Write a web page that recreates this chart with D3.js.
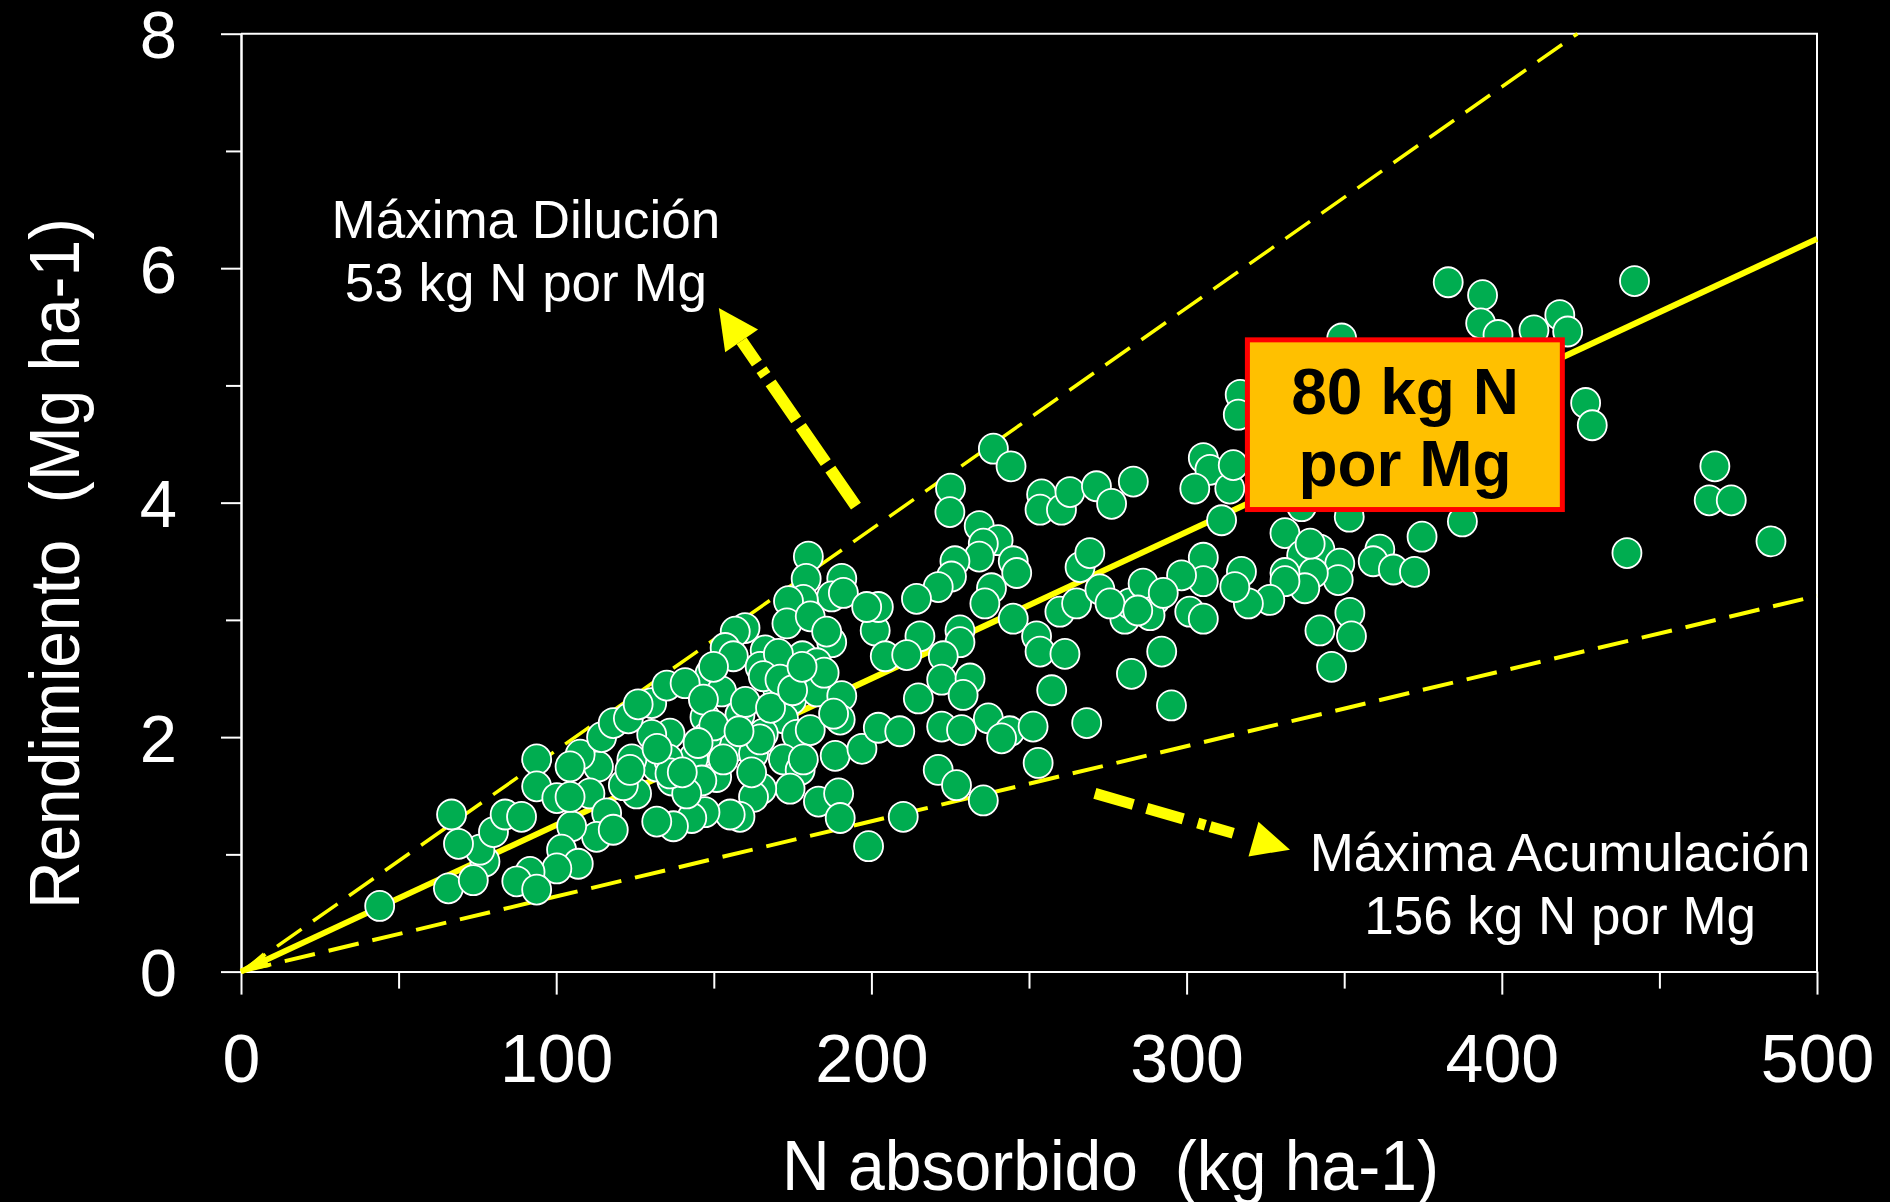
<!DOCTYPE html>
<html>
<head>
<meta charset="utf-8">
<script src="https://cdn.jsdelivr.net/npm/d3@7/dist/d3.min.js"></script>
<style>
  html, body { margin: 0; padding: 0; background: #000; }
  svg { display: block; }
  text { font-family: "Liberation Sans", Arial, sans-serif; }
</style>
</head>
<body>
<svg id="chart" width="1890" height="1202"></svg>
<script>
// N absorbido (kg ha-1) vs rendimiento (Mg ha-1)
const puntos = [
  [180.0,3.54],[179.3,3.35],[190.6,3.35],[187.4,3.20],[191.1,3.23],[178.4,3.17],[173.7,3.16],[173.2,2.97],
  [180.6,3.03],[187.4,2.81],[185.8,2.90],[178.1,2.69],[182.7,2.63],[177.9,2.54],[166.3,2.74],[159.9,2.93],
  [156.8,2.90],[153.6,2.76],[156.2,2.69],[148.8,2.54],[152.5,2.39],[164.7,2.60],[170.5,2.71],[170.0,2.43],
  [174.7,2.32],[182.7,2.39],[190.6,2.35],[172.1,2.16],[176.3,2.02],[180.6,2.06],[190.1,2.15],[188.5,1.84],
  [197.0,1.90],[202.2,2.08],[201.2,2.91],[202.2,3.11],[198.5,3.11],[204.4,2.69],[172.1,1.81],[177.4,1.72],
  [174.2,1.56],[165.2,1.56],[162.6,1.49],[158.3,1.32],[155.2,1.34],[183.2,1.45],[189.6,1.52],[190.1,1.31],
  [199.1,1.07],[158.3,2.19],[156.2,1.92],[162.6,1.86],[165.7,2.03],[150.9,1.66],[147.2,2.17],[147.8,2.00],
  [143.5,1.82],[146.2,1.63],[147.2,1.36],[143.0,1.31],[137.2,1.24],[131.9,1.28],[136.7,1.63],[134.0,1.78],
  [141.4,1.52],[136.1,2.03],[130.3,2.02],[130.3,2.29],[125.5,1.52],[131.9,1.75],[135.6,1.81],[121.3,1.59],
  [124.0,1.81],[113.4,1.75],[107.6,1.85],[104.4,1.75],[114.4,2.00],[118.1,2.12],[122.9,2.16],[135.1,2.44],
  [140.9,2.46],[146.7,2.32],[149.9,2.60],[93.8,1.81],[93.8,1.58],[100.2,1.48],[110.7,1.52],[116.0,1.35],
  [112.8,1.15],[118.1,1.21],[104.9,1.24],[101.7,1.04],[107.0,0.92],[100.2,0.88],[91.7,0.85],[87.5,0.77],
  [93.8,0.70],[77.4,0.94],[75.8,1.04],[80.1,1.19],[83.8,1.34],[89.0,1.32],[66.8,1.34],[69.0,1.09],
  [65.8,0.71],[73.7,0.78],[44.0,0.56],
  [165.7,2.52],[171.0,2.49],[136.1,1.69],[123.4,1.72],[104.4,1.49],[153.0,1.81],[164.7,1.98],[178.4,1.81],
  [150.0,2.10],[160.0,2.30],[145.0,1.95],[168.0,2.25],[175.0,2.40],[158.0,2.05],[140.0,1.70],[132.0,1.90],
  [162.0,1.70],[185.0,2.55],[188.0,2.20],[178.0,2.60],[126.0,2.28],
  [238.7,4.46],[244.3,4.31],[225.1,4.12],[224.9,3.92],[234.2,3.80],[240.2,3.68],[235.5,3.65],[234.2,3.54],
  [245.0,3.50],[246.1,3.40],[226.5,3.50],[225.4,3.37],[221.2,3.28],[214.3,3.18],[238.1,3.27],[236.0,3.14],
  [228.1,2.91],[228.1,2.81],[215.4,2.86],[211.2,2.70],[222.8,2.69],[245.0,3.01],[252.4,2.86],[253.5,2.73],
  [261.4,2.71],[259.8,3.07],[265.1,3.14],[266.2,3.45],[269.3,3.57],[272.5,3.26],[222.3,2.49],[231.3,2.50],
  [229.1,2.36],[214.9,2.33],[209.0,2.05],[222.3,2.09],[228.6,2.06],[237.1,2.16],[243.9,2.05],[251.3,2.09],
  [241.3,1.99],[221.2,1.72],[227.0,1.59],[235.5,1.46],[252.9,1.78],[210.1,1.32],[257.2,2.40],[268.3,2.12],
  [282.5,2.54],[292.1,2.73],[295.2,2.27],[254.0,4.07],[253.5,3.94],[260.3,3.94],[263.0,4.09],[271.4,4.14],
  [276.2,3.99],[283.1,4.18],[305.3,4.38],[307.4,4.28],[302.6,4.12],[313.7,4.12],[314.8,4.32],[311.1,3.85],
  [331.2,3.74],[336.5,3.55],[342.3,3.60],[348.6,3.48],[348.1,3.34],[340.2,3.40],[337.5,3.27],[331.2,3.40],
  [331.2,3.33],[326.4,3.17],[319.6,3.14],[317.4,3.41],[315.3,3.28],[305.3,3.53],[305.3,3.33],[298.4,3.38],
  [301.0,3.07],[305.3,3.01],[290.0,3.17],[288.4,3.04],[280.4,3.01],[282.0,3.14],[286.2,3.31],[292.6,3.23],
  [275.7,3.14],[284.5,3.08],[361.3,3.60],[359.2,3.50],[365.6,3.43],[351.8,3.06],[342.3,2.91],[352.3,2.86],
  [346.0,2.60],
  [383.0,5.88],[393.9,5.77],[393.3,5.53],[398.8,5.43],[410.2,5.47],[418.4,5.60],[420.9,5.46],[442.1,5.89],
  [349.2,5.40],[426.6,4.85],[428.7,4.66],[467.6,4.31],[465.8,4.02],[472.8,4.02],[439.7,3.57],[485.4,3.67],
  [317.0,4.92],[316.4,4.75],[336.5,3.97],[351.6,3.88],[374.7,3.71],[387.5,3.84],[372.3,3.41],[339.2,3.65]
];

// Reference lines: kg of N absorbed per Mg of grain
const lineas = [
  { kgPorMg: 53,  estilo: "dilucion" },
  { kgPorMg: 156, estilo: "acumulacion" },
  { kgPorMg: 80,  estilo: "media" }
];

const xTicksMayores = [0, 100, 200, 300, 400, 500];
const xTicksMenores = [50, 150, 250, 350, 450];
const yTicksMayores = [0, 2, 4, 6, 8];
const yTicksMenores = [1, 3, 5, 7];

// Annotation texts (positions in data units)
const notas = [
  { texto: "Máxima Dilución",    n: 90.4,  y: 6.26 },
  { texto: "53 kg N por Mg",     n: 90.4,  y: 5.72 },
  { texto: "Máxima Acumulación", n: 418.5, y: 0.858 },
  { texto: "156 kg N por Mg",    n: 418.5, y: 0.321 }
];
const flechas = [
  { desde: [195.1, 3.97], hasta: [151.6, 5.66], ancho: 12, cabeza: [40, 20], guiones: "45 8 44 8 45 9 7 8 200" },
  { desde: [270.9, 1.52], hasta: [332.8, 1.04], ancho: 11, cabeza: [38, 18], guiones: "40 14 38 15 8 5 24 60" }
];
const recuadro = { n0: 318.5, n1: 420.0, y0: 5.41, y1: 3.92, lineas: ["80 kg N", "por Mg"], baselines: [4.76, 4.14], nCentro: 369.3 };

const svg = d3.select("#chart");
svg.append("rect").attr("width", 1890).attr("height", 1202).attr("fill", "#000");

const x = d3.scaleLinear().domain([0, 500]).range([241, 1817]);
const y = d3.scaleLinear().domain([0, 8]).range([971.6, 33.7]);

// Frame (top and right sides)
const frame = svg.append("g").attr("stroke", "#fff").attr("stroke-width", 2).attr("fill", "none");
frame.append("path").attr("d", `M${x(0)},${y(8)}H${x(500)}V${y(0)}`);

// Axes
function estiloEje(g, sizeTexto) {
  g.select(".domain").attr("stroke", "#fff").attr("stroke-width", 2);
  g.selectAll(".tick line").attr("stroke", "#fff").attr("stroke-width", 2);
  g.selectAll(".tick text").attr("fill", "#fff").style("font-size", sizeTexto + "px");
}
const gxMenor = svg.append("g").attr("transform", `translate(0,${y(0)})`)
  .call(d3.axisBottom(x).tickValues(xTicksMenores).tickSize(17).tickSizeOuter(0).tickFormat(""));
estiloEje(gxMenor, 0);
const gx = svg.append("g").attr("transform", `translate(0,${y(0)})`)
  .call(d3.axisBottom(x).tickValues(xTicksMayores).tickSize(23).tickSizeOuter(0).tickFormat(d3.format("d")));
estiloEje(gx, 68);
gx.selectAll(".tick text").attr("y", 110.4).attr("dy", null);

const gyMenor = svg.append("g").attr("transform", `translate(${x(0)},0)`)
  .call(d3.axisLeft(y).tickValues(yTicksMenores).tickSize(15).tickSizeOuter(0).tickFormat(""));
estiloEje(gyMenor, 0);
const gy = svg.append("g").attr("transform", `translate(${x(0)},0)`)
  .call(d3.axisLeft(y).tickValues(yTicksMayores).tickSize(20).tickSizeOuter(0).tickFormat(d3.format("d")));
estiloEje(gy, 67);
gy.selectAll(".tick text").attr("x", -64).attr("dy", "0.36em");

// Axis titles
svg.append("text")
  .attr("x", 1110.5).attr("y", 1190)
  .attr("text-anchor", "middle").attr("fill", "#fff")
  .style("font-size", "70px").style("white-space", "pre")
  .attr("textLength", 657).attr("lengthAdjust", "spacingAndGlyphs")
  .text("N absorbido  (kg ha-1)");
svg.append("text")
  .attr("transform", "translate(79,563.5) rotate(-90)")
  .attr("text-anchor", "middle").attr("fill", "#fff")
  .style("font-size", "71px").style("white-space", "pre")
  .attr("textLength", 691).attr("lengthAdjust", "spacingAndGlyphs")
  .text("Rendimiento  (Mg ha-1)");

// Reference lines through the origin
const estilos = {
  dilucion:    { w: 3.5, dash: "30 14" },
  acumulacion: { w: 4,   dash: "31 14" },
  media:       { w: 6,   dash: null }
};
const gLineas = svg.append("g");
lineas.forEach(l => {
  const nFin = Math.min(500, 8 * l.kgPorMg);
  const yFin = nFin / l.kgPorMg;
  const s = estilos[l.estilo];
  gLineas.append("line")
    .attr("x1", x(0)).attr("y1", y(0))
    .attr("x2", x(nFin)).attr("y2", y(yFin))
    .attr("stroke", "#ffff00").attr("stroke-width", s.w)
    .attr("stroke-dasharray", s.dash);
  if (l.estilo === "media") {
    // small arrow tip at the origin
    const dx = x(nFin) - x(0), dy = y(yFin) - y(0);
    const len = Math.hypot(dx, dy), ux = dx / len, uy = dy / len;
    const bx = x(0) + 28 * ux, by = y(0) + 28 * uy;
    gLineas.append("path")
      .attr("d", `M${x(0)},${y(0)}L${bx - 8 * uy},${by + 8 * ux}L${bx + 8 * uy},${by - 8 * ux}Z`)
      .attr("fill", "#ffff00");
  }
});

// Scatter
svg.append("g").selectAll("ellipse").data(puntos).join("ellipse")
  .attr("cx", d => x(d[0])).attr("cy", d => y(d[1]))
  .attr("rx", 14.5).attr("ry", 15)
  .attr("fill", "#00AD50").attr("stroke", "#fff").attr("stroke-width", 1.8);

// Boxed label for the central line
svg.append("rect")
  .attr("x", x(recuadro.n0) + 2.5).attr("y", y(recuadro.y0) + 2.5)
  .attr("width", x(recuadro.n1) - x(recuadro.n0) - 5)
  .attr("height", y(recuadro.y1) - y(recuadro.y0) - 5)
  .attr("fill", "#FFC000").attr("stroke", "#FF0000").attr("stroke-width", 5);
recuadro.lineas.forEach((t, i) => {
  svg.append("text")
    .attr("x", x(recuadro.nCentro)).attr("y", y(recuadro.baselines[i]))
    .attr("text-anchor", "middle").attr("fill", "#000")
    .style("font-size", "64px").style("font-weight", "bold")
    .text(t);
});

// Dashed arrows pointing to the annotations
flechas.forEach(f => {
  const x0 = x(f.desde[0]), y0 = y(f.desde[1]);
  const x1 = x(f.hasta[0]), y1 = y(f.hasta[1]);
  const len = Math.hypot(x1 - x0, y1 - y0);
  const ux = (x1 - x0) / len, uy = (y1 - y0) / len;
  const [L, W] = f.cabeza;
  const bx = x1 - L * ux, by = y1 - L * uy;
  svg.append("line")
    .attr("x1", x0).attr("y1", y0).attr("x2", bx).attr("y2", by)
    .attr("stroke", "#ffff00").attr("stroke-width", f.ancho)
    .attr("stroke-dasharray", f.guiones);
  svg.append("path")
    .attr("d", `M${x1},${y1}L${bx - W * uy},${by + W * ux}L${bx + W * uy},${by - W * ux}Z`)
    .attr("fill", "#ffff00");
});

// Annotation texts
svg.append("g").selectAll("text").data(notas).join("text")
  .attr("x", d => x(d.n)).attr("y", d => y(d.y))
  .attr("text-anchor", "middle").attr("fill", "#fff")
  .style("font-size", "53px")
  .text(d => d.texto);
</script>
</body>
</html>
